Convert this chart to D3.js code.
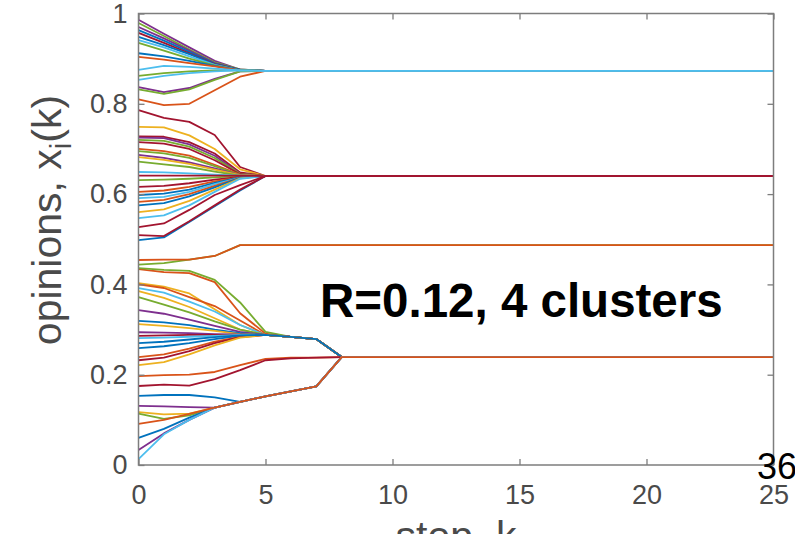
<!DOCTYPE html>
<html>
<head>
<meta charset="utf-8">
<script src="https://cdn.jsdelivr.net/npm/d3@7"></script>
<style>
  body { margin: 0; background: #fff; }
  svg { display: block; font-family: "Liberation Sans", Arial, Helvetica, sans-serif; }
</style>
</head>
<body>
<div id="chart"></div>
<script>
// Data
const steps = [0, 1, 2, 3, 4, 5, 6, 7, 8, 25]
const xTicks = [0, 5, 10, 15, 20, 25]
const yTicks = [0, 0.2, 0.4, 0.6, 0.8, 1]
// matlab default colour order
const palette = ['#0072BD', '#D95319', '#EDB120', '#7E2F8E', '#77AC30', '#4DBEEE', '#A2142F']

// opinion of each agent at the steps above
const opinions = [
  // cluster ~0.873
  [0.986, 0.955, 0.925, 0.895, 0.876, 0.873, 0.873, 0.873, 0.873, 0.873],
  [0.979, 0.950, 0.920, 0.892, 0.876, 0.873, 0.873, 0.873, 0.873, 0.873],
  [0.970, 0.945, 0.918, 0.890, 0.875, 0.873, 0.873, 0.873, 0.873, 0.873],
  [0.963, 0.940, 0.915, 0.889, 0.875, 0.873, 0.873, 0.873, 0.873, 0.873],
  [0.957, 0.935, 0.912, 0.888, 0.875, 0.873, 0.873, 0.873, 0.873, 0.873],
  [0.948, 0.930, 0.910, 0.887, 0.875, 0.873, 0.873, 0.873, 0.873, 0.873],
  [0.941, 0.925, 0.905, 0.886, 0.874, 0.873, 0.873, 0.873, 0.873, 0.873],
  [0.935, 0.918, 0.900, 0.885, 0.874, 0.873, 0.873, 0.873, 0.873, 0.873],
  [0.912, 0.905, 0.895, 0.884, 0.874, 0.873, 0.873, 0.873, 0.873, 0.873],
  [0.904, 0.898, 0.890, 0.883, 0.874, 0.873, 0.873, 0.873, 0.873, 0.873],
  [0.862, 0.868, 0.872, 0.874, 0.874, 0.873, 0.873, 0.873, 0.873, 0.873],
  [0.837, 0.826, 0.835, 0.855, 0.872, 0.873, 0.873, 0.873, 0.873, 0.873],
  [0.832, 0.822, 0.832, 0.853, 0.872, 0.873, 0.873, 0.873, 0.873, 0.873],
  [0.810, 0.797, 0.800, 0.830, 0.860, 0.873, 0.873, 0.873, 0.873, 0.873],
  [0.853, 0.862, 0.868, 0.872, 0.874, 0.873, 0.873, 0.873, 0.873, 0.873],
  [0.875, 0.884, 0.882, 0.878, 0.874, 0.873, 0.873, 0.873, 0.873, 0.873],
  // cluster ~0.640
  [0.786, 0.769, 0.760, 0.731, 0.660, 0.640, 0.640, 0.640, 0.640, 0.640],
  [0.749, 0.748, 0.730, 0.700, 0.655, 0.640, 0.640, 0.640, 0.640, 0.640],
  [0.728, 0.727, 0.715, 0.690, 0.648, 0.640, 0.640, 0.640, 0.640, 0.640],
  [0.725, 0.724, 0.710, 0.685, 0.645, 0.640, 0.640, 0.640, 0.640, 0.640],
  [0.720, 0.718, 0.705, 0.680, 0.645, 0.640, 0.640, 0.640, 0.640, 0.640],
  [0.715, 0.712, 0.700, 0.675, 0.644, 0.640, 0.640, 0.640, 0.640, 0.640],
  [0.700, 0.695, 0.685, 0.665, 0.643, 0.640, 0.640, 0.640, 0.640, 0.640],
  [0.695, 0.690, 0.680, 0.662, 0.642, 0.640, 0.640, 0.640, 0.640, 0.640],
  [0.687, 0.680, 0.670, 0.657, 0.642, 0.640, 0.640, 0.640, 0.640, 0.640],
  [0.682, 0.676, 0.667, 0.654, 0.642, 0.640, 0.640, 0.640, 0.640, 0.640],
  [0.672, 0.666, 0.660, 0.650, 0.641, 0.640, 0.640, 0.640, 0.640, 0.640],
  [0.649, 0.648, 0.646, 0.643, 0.641, 0.640, 0.640, 0.640, 0.640, 0.640],
  [0.631, 0.632, 0.634, 0.637, 0.640, 0.640, 0.640, 0.640, 0.640, 0.640],
  [0.616, 0.618, 0.624, 0.632, 0.638, 0.640, 0.640, 0.640, 0.640, 0.640],
  [0.605, 0.608, 0.616, 0.628, 0.637, 0.640, 0.640, 0.640, 0.640, 0.640],
  [0.598, 0.601, 0.610, 0.625, 0.637, 0.640, 0.640, 0.640, 0.640, 0.640],
  [0.591, 0.594, 0.605, 0.622, 0.636, 0.640, 0.640, 0.640, 0.640, 0.640],
  [0.583, 0.587, 0.600, 0.618, 0.636, 0.640, 0.640, 0.640, 0.640, 0.640],
  [0.575, 0.580, 0.595, 0.615, 0.636, 0.640, 0.640, 0.640, 0.640, 0.640],
  [0.560, 0.566, 0.585, 0.610, 0.635, 0.640, 0.640, 0.640, 0.640, 0.640],
  [0.547, 0.553, 0.575, 0.605, 0.634, 0.640, 0.640, 0.640, 0.640, 0.640],
  [0.498, 0.504, 0.538, 0.573, 0.608, 0.640, 0.640, 0.640, 0.640, 0.640],
  [0.527, 0.535, 0.565, 0.598, 0.620, 0.640, 0.640, 0.640, 0.640, 0.640],
  [0.509, 0.507, 0.540, 0.575, 0.610, 0.640, 0.640, 0.640, 0.640, 0.640],
  [0.641, 0.641, 0.641, 0.641, 0.641, 0.640, 0.640, 0.640, 0.640, 0.640],
  // cluster ~0.487
  [0.444, 0.447, 0.455, 0.463, 0.487, 0.487, 0.487, 0.487, 0.487, 0.487],
  [0.454, 0.455, 0.455, 0.463, 0.487, 0.487, 0.487, 0.487, 0.487, 0.487],
  // cluster ~0.239
  [0.434, 0.427, 0.425, 0.405, 0.336, 0.291, 0.284, 0.279, 0.239, 0.239],
  [0.436, 0.432, 0.430, 0.410, 0.360, 0.295, 0.284, 0.279, 0.239, 0.239],
  [0.403, 0.395, 0.380, 0.345, 0.310, 0.288, 0.284, 0.279, 0.239, 0.239],
  [0.400, 0.392, 0.372, 0.352, 0.320, 0.288, 0.284, 0.279, 0.239, 0.239],
  [0.392, 0.382, 0.362, 0.340, 0.310, 0.288, 0.284, 0.279, 0.239, 0.239],
  [0.385, 0.370, 0.350, 0.325, 0.300, 0.288, 0.284, 0.279, 0.239, 0.239],
  [0.372, 0.355, 0.338, 0.318, 0.300, 0.288, 0.284, 0.279, 0.239, 0.239],
  [0.343, 0.335, 0.322, 0.308, 0.295, 0.288, 0.284, 0.279, 0.239, 0.239],
  [0.319, 0.316, 0.310, 0.300, 0.292, 0.288, 0.284, 0.279, 0.239, 0.239],
  [0.312, 0.308, 0.303, 0.297, 0.290, 0.288, 0.284, 0.279, 0.239, 0.239],
  [0.294, 0.293, 0.292, 0.290, 0.289, 0.288, 0.284, 0.279, 0.239, 0.239],
  [0.286, 0.287, 0.288, 0.288, 0.288, 0.288, 0.284, 0.279, 0.239, 0.239],
  [0.281, 0.282, 0.284, 0.286, 0.288, 0.288, 0.284, 0.279, 0.239, 0.239],
  [0.259, 0.263, 0.270, 0.279, 0.286, 0.288, 0.284, 0.279, 0.239, 0.239],
  [0.239, 0.245, 0.258, 0.273, 0.284, 0.288, 0.284, 0.279, 0.239, 0.239],
  [0.232, 0.238, 0.252, 0.270, 0.283, 0.288, 0.284, 0.279, 0.239, 0.239],
  [0.221, 0.228, 0.245, 0.265, 0.282, 0.288, 0.284, 0.279, 0.239, 0.239],
  [0.270, 0.273, 0.278, 0.283, 0.287, 0.288, 0.284, 0.279, 0.239, 0.239],
  [0.197, 0.199, 0.200, 0.206, 0.221, 0.235, 0.238, 0.238, 0.239, 0.239],
  [0.175, 0.178, 0.176, 0.190, 0.210, 0.232, 0.236, 0.238, 0.239, 0.239],
  [0.153, 0.155, 0.155, 0.150, 0.140, 0.152, 0.163, 0.174, 0.239, 0.239],
  [0.131, 0.130, 0.128, 0.127, 0.140, 0.152, 0.163, 0.174, 0.239, 0.239],
  [0.117, 0.112, 0.114, 0.127, 0.140, 0.152, 0.163, 0.174, 0.239, 0.239],
  [0.114, 0.102, 0.110, 0.127, 0.140, 0.152, 0.163, 0.174, 0.239, 0.239],
  [0.060, 0.080, 0.105, 0.127, 0.140, 0.152, 0.163, 0.174, 0.239, 0.239],
  [0.033, 0.070, 0.100, 0.127, 0.140, 0.152, 0.163, 0.174, 0.239, 0.239],
  [0.013, 0.068, 0.100, 0.127, 0.140, 0.152, 0.163, 0.174, 0.239, 0.239],
  [0.091, 0.100, 0.113, 0.127, 0.140, 0.152, 0.163, 0.174, 0.239, 0.239]
]

// palette index of each agent's line (same order as opinions)
const lineColors = [
  3, 4, 3, 0, 6, 0, 5, 4, 0, 1, 4, 3, 4, 1, 5, 5,
  6, 2, 6, 3, 4, 6, 1, 4, 3, 2, 4, 5, 4, 6, 1, 0, 5, 1, 0, 2, 5, 0, 6, 6, 6,
  4, 1,
  1, 4, 2, 1, 5, 2, 4, 3, 0, 2, 3, 6, 5, 0, 1, 6, 2, 0,
  1, 6, 0, 3, 2, 4, 0, 3, 5, 1
]

const annotation = 'R=0.12, 4 clusters'
const pageNumber = '36'

// Dimensions
const dimensions = {
  width: 795,
  height: 534,
  left: 138.5,
  top: 13.5,
  ctrWidth: 635,
  ctrHeight: 451.5
}

const svg = d3.select('#chart')
  .append('svg')
  .attr('width', dimensions.width)
  .attr('height', dimensions.height)

const ctr = svg.append('g')
  .attr('transform', `translate(${dimensions.left}, ${dimensions.top})`)

// scales
const xScale = d3.scaleLinear()
  .domain([0, 25])
  .range([0, dimensions.ctrWidth])

const yScale = d3.scaleLinear()
  .domain([0, 1])
  .range([dimensions.ctrHeight, 0])

// lines
const line = d3.line()
  .x((d, i) => xScale(steps[i]))
  .y(d => yScale(d))

ctr.append('g')
  .selectAll('path')
  .data(opinions)
  .join('path')
  .attr('d', line)
  .attr('fill', 'none')
  .attr('stroke', (d, i) => palette[lineColors[i]])
  .attr('stroke-width', 1.8)
  .attr('stroke-linejoin', 'round')

// axes (matlab style box, ticks inside)
const axisColor = '#7d7d7d'
const labelColor = '#4a4a4a'
const fmt = d3.format('~g')

const styleAxis = g => {
  g.select('.domain').remove()
  g.selectAll('.tick line').attr('stroke', axisColor).attr('stroke-width', 1.3)
  g.selectAll('.tick text').attr('fill', labelColor).attr('font-size', 27)
}

ctr.append('g')
  .attr('transform', `translate(0, ${dimensions.ctrHeight})`)
  .call(d3.axisBottom(xScale).tickValues(xTicks).tickFormat(fmt).tickSize(-6).tickPadding(20))
  .call(styleAxis)

ctr.append('g')
  .call(d3.axisLeft(yScale).tickValues(yTicks).tickFormat(fmt).tickSize(-6).tickPadding(11))
  .call(styleAxis)

ctr.append('g')
  .call(d3.axisTop(xScale).tickValues(xTicks).tickFormat('').tickSize(-6))
  .call(styleAxis)

ctr.append('g')
  .attr('transform', `translate(${dimensions.ctrWidth}, 0)`)
  .call(d3.axisRight(yScale).tickValues(yTicks).tickFormat('').tickSize(-6))
  .call(styleAxis)

ctr.append('rect')
  .attr('width', dimensions.ctrWidth)
  .attr('height', dimensions.ctrHeight)
  .attr('fill', 'none')
  .attr('stroke', axisColor)
  .attr('stroke-width', 1.5)

// axis labels
const yLabel = svg.append('text')
  .attr('transform', `translate(61, 220) rotate(-90)`)
  .attr('text-anchor', 'middle')
  .attr('font-size', 41)
  .attr('fill', labelColor)

yLabel.append('tspan').text('opinions, x')
yLabel.append('tspan').attr('font-size', 29).attr('dy', 10).text('i')
yLabel.append('tspan').attr('dy', -10).text('(k)')

svg.append('text')
  .attr('x', dimensions.left + dimensions.ctrWidth / 2)
  .attr('y', 550)
  .attr('text-anchor', 'middle')
  .attr('font-size', 41)
  .attr('fill', labelColor)
  .text('step, k')

// annotation
svg.append('text')
  .attr('x', 320)
  .attr('y', 317)
  .attr('font-size', 47.5)
  .attr('font-weight', 'bold')
  .attr('fill', '#000')
  .text(annotation)

svg.append('text')
  .attr('x', 757)
  .attr('y', 479)
  .attr('font-size', 36)
  .attr('fill', '#000')
  .text(pageNumber)
</script>
</body>
</html>
